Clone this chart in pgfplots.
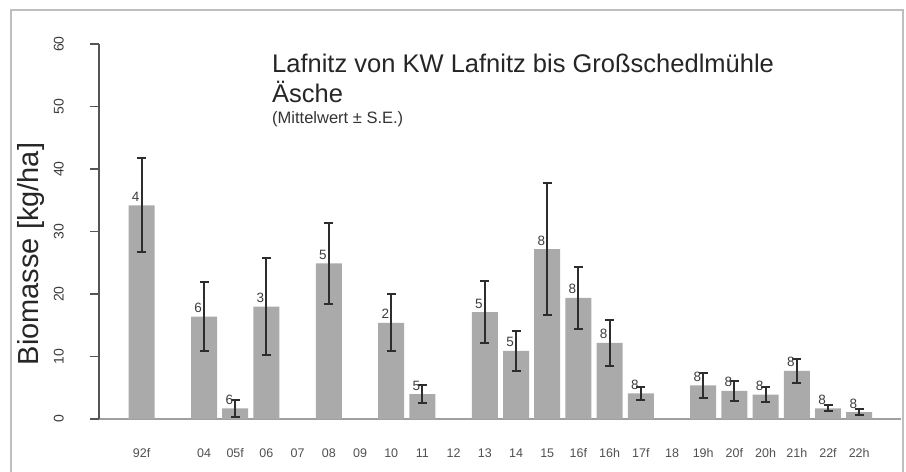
\documentclass[border=0pt]{standalone}
\usepackage{fontspec}
\setmainfont{Liberation Sans}
\usepackage{pgfplots}
\pgfplotsset{compat=1.18}
\usepackage{pgfplotstable}

\definecolor{barfill}{RGB}{170,170,170}
\definecolor{errc}{RGB}{45,45,45}
\definecolor{framec}{RGB}{190,190,190}
\definecolor{yax}{RGB}{85,85,85}
\definecolor{basec}{RGB}{160,160,160}
\definecolor{ticklab}{RGB}{60,60,60}
\definecolor{xlab}{RGB}{80,80,80}

\pgfplotstableread{
x y e n
0 34.2 7.5 4
2 16.4 5.5 6
3 1.7 1.4 6
4 18.0 7.7 3
6 24.9 6.5 5
8 15.4 4.6 2
9 4.0 1.4 5
11 17.1 5.0 5
12 10.9 3.25 5
13 27.2 10.5 8
14 19.4 4.95 8
15 12.2 3.7 8
16 4.1 1.05 8
18 5.4 2.0 8
19 4.5 1.65 8
20 3.9 1.15 8
21 7.7 1.95 8
22 1.7 0.5 8
23 1.1 0.45 8
}\datatable

\begin{document}
\begin{tikzpicture}
\begin{axis}[
 at={(99bp,53bp)}, anchor=south west,
 scale only axis, width=802bp, height=375bp,
 xmin=-1.366, xmax=24.34, ymin=0, ymax=60,
 axis y line*=left, axis x line*=bottom,
 x axis line style={draw=basec, line width=1.5bp},
 y axis line style={draw=yax, line width=1.3bp},
 ytick={0,10,20,30,40,50,60},
 xtick={0,2,3,4,5,6,7,8,9,10,11,12,13,14,15,16,17,18,19,20,21,22,23},
 xticklabels={92f,04,05f,06,07,08,09,10,11,12,13,14,15,16f,16h,17f,18,19h,20f,20h,21h,22f,22h},
 tick align=outside, major tick length=9bp,
 ytick style={draw=yax, line width=1.3bp},
 xtick style={draw=none},
 yticklabel style={rotate=90, anchor=south, inner sep=0pt, font=\fontsize{14bp}{14bp}\selectfont, text=ticklab},
 yticklabel shift=26bp,
 xticklabel style={anchor=center, inner sep=0pt, font=\fontsize{12.5bp}{12.5bp}\selectfont, text=xlab},
 xticklabel shift=25bp,
 /pgf/number format/assume math mode=true,
 clip=false,
]
\addplot[ybar, bar width=0.833, fill=barfill, draw=none] table[x=x,y=y]{\datatable};
\addplot[draw=none, mark=none, nodes near coords, point meta=explicit symbolic,
  every node near coord/.append style={anchor=base, yshift=4bp, inner sep=0pt, font=\fontsize{13.5bp}{13.5bp}\selectfont, text=ticklab}]
  table[x expr=\thisrow{x}-0.19, y=y, meta=n]{\datatable};
\addplot[draw=none, mark=none, error bars/.cd, y dir=both, y explicit,
  error mark=|,
  error bar style={line width=2bp, draw=errc},
  error mark options={draw=errc, line width=2bp, mark size=4.5bp}]
  table[x=x, y=y, y error=e]{\datatable};
\end{axis}
\draw[framec, line width=1.5bp] (11bp,0) -- (11bp,462bp) -- (903bp,462bp) -- (903bp,0);
\node[rotate=90, anchor=base, inner sep=0pt, font=\fontsize{29bp}{29bp}\selectfont, text=black!85] at (38bp,218bp) {Biomasse [kg/ha]};
\node[anchor=base west, inner sep=0pt, font=\fontsize{25.5bp}{30bp}\selectfont, text=black!85] at (272bp,399.3bp) {Lafnitz von KW Lafnitz bis Großschedlmühle};
\node[anchor=base west, inner sep=0pt, font=\fontsize{25.5bp}{30bp}\selectfont, text=black!85] at (272bp,369.3bp) {Äsche};
\node[anchor=base west, inner sep=0pt, font=\fontsize{16.5bp}{18bp}\selectfont, text=black!80] at (272bp,348bp) {(Mittelwert ± S.E.)};
\pgfresetboundingbox
\path[use as bounding box] (0,0) rectangle (906bp,472bp);
\end{tikzpicture}
\end{document}
